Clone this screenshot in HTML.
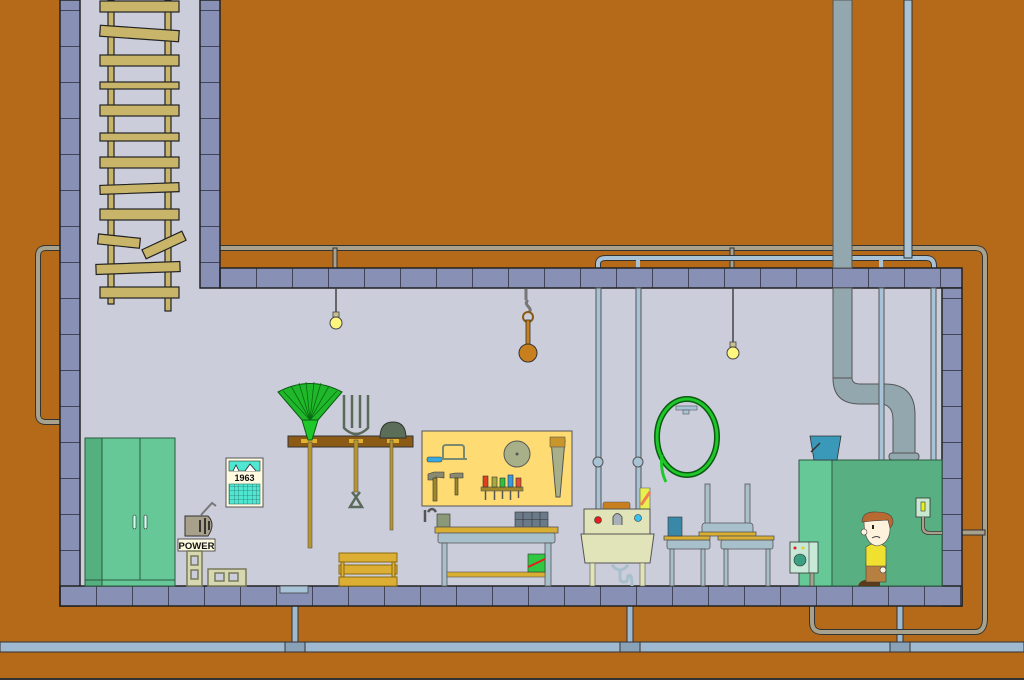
<!DOCTYPE html>
<html><head><meta charset="utf-8"><style>
html,body{margin:0;padding:0;background:#b46a19;}
svg{display:block}
text{font-family:"Liberation Sans",sans-serif}
</style></head><body>
<svg width="1024" height="680" viewBox="0 0 1024 680" xmlns="http://www.w3.org/2000/svg">
<defs>
<pattern id="vt" x="0" y="10" width="20" height="36" patternUnits="userSpaceOnUse">
<rect width="20" height="36" fill="#8890b5"/><line x1="0" y1="0" x2="20" y2="0" stroke="#2a2a3a" stroke-width="1.5"/></pattern>
<pattern id="ht" x="60" y="0" width="36" height="20" patternUnits="userSpaceOnUse">
<rect width="36" height="20" fill="#8890b5"/><line x1="0" y1="0" x2="0" y2="20" stroke="#2a2a3a" stroke-width="1.5"/></pattern>
<pattern id="ht2" x="220" y="0" width="36" height="20" patternUnits="userSpaceOnUse">
<rect width="36" height="20" fill="#8890b5"/><line x1="0" y1="0" x2="0" y2="20" stroke="#2a2a3a" stroke-width="1.5"/></pattern>
<pattern id="grid" width="4.5" height="4.5" patternUnits="userSpaceOnUse"><rect width="4.5" height="4.5" fill="#4fe6d2"/><path d="M0 0H4.5M0 0V4.5" stroke="#2a7a70" stroke-width="0.8"/></pattern>
</defs>
<rect width="1024" height="680" fill="#b46a19"/>
<line x1="0" y1="679" x2="1024" y2="679" stroke="#333" stroke-width="2"/>

<!-- bottom blue pipe -->
<rect x="0" y="642" width="1024" height="10" fill="#9fbad0" stroke="#333" stroke-width="1"/>
<g fill="#9fbad0" stroke="#333" stroke-width="1">
<rect x="292" y="606" width="6" height="36"/><rect x="285" y="642" width="20" height="10" fill="#8aa2b8"/>
<rect x="627" y="606" width="6" height="36"/><rect x="620" y="642" width="20" height="10" fill="#8aa2b8"/>
<rect x="897" y="606" width="6" height="36"/><rect x="890" y="642" width="20" height="10" fill="#8aa2b8"/>
</g>
<!-- gray pipes -->
<g fill="none" stroke="#333" stroke-width="6" stroke-linecap="butt">
<path d="M60 248H46Q38 248 38 256V414Q38 422 46 422H60"/>
<path d="M220 248H975Q985 248 985 258V618Q985 632 975 632H822Q812 632 812 622V573"/>
<path d="M80 423H180Q190 423 190 433V515"/>
</g>
<g fill="none" stroke="#a8a28c" stroke-width="4">
<path d="M60 248H46Q38 248 38 256V414Q38 422 46 422H60"/>
<path d="M220 248H975Q985 248 985 258V618Q985 632 975 632H822Q812 632 812 622V573"/>
<path d="M80 423H180Q190 423 190 433V515"/>
</g>
<g fill="#a8a28c" stroke="#333" stroke-width="1">
<rect x="333" y="248" width="4" height="20"/><rect x="730" y="248" width="4" height="20"/>
<rect x="962" y="530" width="23" height="5"/>
</g>
<!-- top blue pipe -->
<g fill="none" stroke="#333" stroke-width="6"><path d="M598 268V264Q598 258 606 258H926Q934 258 934 266V268"/></g>
<g fill="none" stroke="#a8c3d6" stroke-width="4"><path d="M598 268V264Q598 258 606 258H926Q934 258 934 266V268"/></g>
<rect x="904" y="0" width="8" height="258" fill="#a8c3d6" stroke="#333" stroke-width="1"/>
<rect x="636" y="258" width="4" height="10" fill="#a8c3d6"/><rect x="879" y="258" width="4" height="10" fill="#a8c3d6"/>

<!-- interiors -->
<rect x="80" y="0" width="120" height="288" fill="#cbcdda"/>
<rect x="80" y="288" width="862" height="298" fill="#cbcdda"/>
<!-- walls -->
<rect x="60" y="0" width="20" height="606" fill="url(#vt)" stroke="#222" stroke-width="1.5"/>
<rect x="200" y="0" width="20" height="288" fill="url(#vt)" stroke="#222" stroke-width="1.5"/>
<rect x="220" y="268" width="742" height="20" fill="url(#ht2)" stroke="#222" stroke-width="1.5"/>
<rect x="942" y="288" width="20" height="318" fill="url(#vt)" stroke="#222" stroke-width="1.5"/>
<rect x="60" y="586" width="902" height="20" fill="url(#ht)" stroke="#222" stroke-width="1.5"/>

<!-- duct -->
<g fill="#93a8ae" stroke="#555" stroke-width="1">
<rect x="833" y="0" width="19" height="268"/>
<rect x="833" y="288" width="19" height="90"/>
<path d="M833 378Q833 404 860 404H880Q893 404 893 420V455H915V415Q915 384 885 384H860Q852 384 852 378Z"/>
<rect x="889" y="453" width="30" height="7" rx="3"/>
</g>
<g fill="#a8c3d6" stroke="#555" stroke-width="1">
<rect x="879" y="288" width="5" height="172"/><rect x="931" y="288" width="5" height="172"/>
<rect x="596" y="288" width="5" height="221"/><rect x="636" y="288" width="5" height="221"/>
<circle cx="598" cy="462" r="5"/><circle cx="638" cy="462" r="5"/>
</g>

<!-- ladder -->
<g fill="#c8b56a" stroke="#222" stroke-width="1.2">
<rect x="108" y="0" width="6" height="304"/><rect x="165" y="0" width="6" height="311"/>
<rect x="100" y="1" width="79" height="11"/>
<rect x="100" y="28" width="79" height="11" transform="rotate(4 140 33)"/>
<rect x="100" y="55" width="79" height="11"/>
<rect x="100" y="82" width="79" height="7"/>
<rect x="100" y="105" width="79" height="11"/>
<rect x="100" y="133" width="79" height="8"/>
<rect x="100" y="157" width="79" height="11"/>
<rect x="100" y="184" width="79" height="9" transform="rotate(-2 140 188)"/>
<rect x="100" y="209" width="79" height="11"/>
<rect x="98" y="236" width="42" height="10" transform="rotate(6 118 241)"/>
<rect x="142" y="240" width="44" height="10" transform="rotate(-25 164 245)"/>
<rect x="96" y="263" width="84" height="10" transform="rotate(-2 138 268)"/>
<rect x="100" y="287" width="79" height="11"/>
</g>

<!-- lights -->
<line x1="336" y1="288" x2="336" y2="314" stroke="#444" stroke-width="1.5"/>
<rect x="333" y="312" width="6" height="5" fill="#c8c090" stroke="#444" stroke-width="0.8"/>
<circle cx="336" cy="323" r="6" fill="#fff680" stroke="#444"/>
<line x1="733" y1="288" x2="733" y2="343" stroke="#444" stroke-width="1.5"/>
<rect x="730" y="342" width="6" height="5" fill="#c8c090" stroke="#444" stroke-width="0.8"/>
<circle cx="733" cy="353" r="6" fill="#fff680" stroke="#444"/>
<!-- hook ball -->
<path d="M526 289V300M528 300C522 305 534 308 529 312" stroke="#777" stroke-width="3" fill="none"/>
<circle cx="528" cy="317" r="5" fill="none" stroke="#8a5a10" stroke-width="2"/>
<rect x="526" y="320" width="4" height="26" fill="#c8801e" stroke="#333" stroke-width="0.8"/>
<circle cx="528" cy="353" r="9" fill="#c8801e" stroke="#333"/>

<!-- cabinet -->
<rect x="85" y="438" width="90" height="148" fill="#66c896" stroke="#2a5a40"/>
<rect x="85" y="438" width="17" height="148" fill="#55b080" stroke="#2a5a40"/>
<line x1="140" y1="438" x2="140" y2="580" stroke="#2a5a40"/>
<line x1="85" y1="580" x2="175" y2="580" stroke="#2a5a40"/>
<rect x="133" y="515" width="3" height="14" rx="1.5" fill="#cfe" stroke="#333" stroke-width="0.6"/>
<rect x="144" y="515" width="3" height="14" rx="1.5" fill="#cfe" stroke="#333" stroke-width="0.6"/>
<!-- power -->
<path d="M185 516H208Q216 524 208 536H185Z" fill="#a8a08a" stroke="#333"/>
<path d="M200 520V532M205 518V534M209 521V530" stroke="#111" stroke-width="1.5"/>
<path d="M201 515L212 503L216 506" fill="none" stroke="#777" stroke-width="2"/>
<rect x="178" y="539" width="37" height="12" fill="#fffbe0" stroke="#333" stroke-width="0.8"/>
<text x="196.5" y="549" font-size="9.5" font-weight="bold" text-anchor="middle" fill="#111">POWER</text>
<g fill="none" stroke="#777a5a" stroke-width="1.5"><rect x="187" y="551" width="15" height="35" fill="#d8d8b0"/><rect x="191" y="556" width="7" height="9" fill="#cbcdda"/><rect x="191" y="570" width="7" height="9" fill="#cbcdda"/>
<rect x="208" y="569" width="38" height="17" fill="#d8d8b0"/><rect x="215" y="573" width="9" height="8" fill="#cbcdda"/><rect x="229" y="573" width="9" height="8" fill="#cbcdda"/></g>
<!-- calendar -->
<rect x="226" y="458" width="37" height="49" fill="#fffbe0" stroke="#555"/>
<rect x="229" y="461" width="31" height="10" fill="#4fe6d2" stroke="#333" stroke-width="0.6"/>
<path d="M233 471L236 465L239 471M245 471L250 464L256 471" fill="#fff" stroke="#222" stroke-width="0.8"/>
<text x="244.5" y="481" font-size="9" font-weight="bold" text-anchor="middle" fill="#111">1963</text>
<rect x="229" y="484" width="31" height="20" fill="url(#grid)" stroke="#2a7a70" stroke-width="0.6"/>
<!-- drain -->
<rect x="280" y="586" width="28" height="7" fill="#a8c3d6" stroke="#444" stroke-width="0.8"/>

<!-- rack -->
<rect x="288" y="436" width="125" height="11" fill="#8b5a14" stroke="#333"/>
<g fill="#e0b030"><rect x="301" y="439" width="16" height="4"/><rect x="349" y="439" width="14" height="4"/><rect x="387" y="439" width="12" height="4"/></g>
<rect x="308" y="442" width="4" height="106" fill="#b8962a" stroke="#555" stroke-width="0.6"/>
<path d="M278 392Q310 375 342 392L318 420H302Z" fill="#1fb82a" stroke="#0a5a10"/>
<g stroke="#0a6a10" stroke-width="0.8"><path d="M310 420L283 391M310 420L291 386M310 420L299 383M310 420L306 382M310 420L314 382M310 420L321 383M310 420L329 386M310 420L337 391"/></g>
<path d="M302 420H318L312 440H308Z" fill="#1fc82a" stroke="#0a5a10"/>
<rect x="354" y="440" width="4" height="52" fill="#b8962a" stroke="#555" stroke-width="0.6"/>
<path d="M344 395V428Q356 440 368 428V395M352 395V428M360 395V428" fill="none" stroke="#5a6a5a" stroke-width="2.5"/>
<path d="M352 492L356 497L360 492M350 507L356 497L362 507Z" fill="none" stroke="#5a6a5a" stroke-width="2.5"/>
<rect x="390" y="440" width="3" height="90" fill="#b8962a" stroke="#555" stroke-width="0.6"/>
<path d="M380 438Q380 422 393 422Q406 422 406 438Z" fill="#5a6e58" stroke="#333"/>

<!-- crate -->
<g fill="#dcae33" stroke="#8a6a10"><rect x="339" y="553" width="58" height="9"/><rect x="339" y="565" width="58" height="9"/><rect x="339" y="577" width="58" height="9"/><rect x="341" y="562" width="3" height="15"/><rect x="392" y="562" width="3" height="15"/></g>

<!-- pegboard -->
<rect x="422" y="431" width="150" height="75" fill="#ffdc73" stroke="#555"/>
<path d="M443 458V448Q443 445 446 445H461Q464 445 464 448V459" fill="none" stroke="#7a8a70" stroke-width="2"/>
<rect x="427" y="457" width="15" height="5" rx="2" fill="#38a8e0" stroke="#333" stroke-width="0.6"/>
<rect x="441" y="458" width="26" height="2" fill="#7a8a70"/>
<circle cx="517" cy="454" r="13" fill="#a8b08a" stroke="#555"/><circle cx="517" cy="454" r="1.5" fill="#555"/>
<path d="M551 440H565L560 497H556Z" fill="#a8b08a" stroke="#555"/>
<rect x="550" y="437" width="15" height="10" fill="#c8962a" stroke="#555" stroke-width="0.6"/>
<path d="M428 474L434 472H444V478L436 477V480H428Z" fill="#8a8a70" stroke="#333" stroke-width="0.6"/><rect x="433" y="478" width="4" height="23" fill="#a0882a" stroke="#333" stroke-width="0.6"/>
<path d="M450 474L455 473H463V478H450Z" fill="#8a8a70" stroke="#333" stroke-width="0.6"/><rect x="455" y="478" width="3" height="17" fill="#a0882a" stroke="#333" stroke-width="0.6"/>
<rect x="481" y="487" width="42" height="4" fill="#a0882a" stroke="#555" stroke-width="0.6"/>
<g stroke="#333" stroke-width="0.6"><rect x="483" y="476" width="5" height="11" fill="#e04020"/><rect x="492" y="477" width="5" height="10" fill="#a8a840"/><rect x="500" y="478" width="5" height="9" fill="#30c040"/><rect x="508" y="475" width="5" height="12" fill="#3898e0"/><rect x="516" y="478" width="5" height="9" fill="#e05030"/></g>
<path d="M485.5 491V500M494.5 491V500M502.5 491V499M510.5 491V500M518.5 491V498" stroke="#555" stroke-width="1.5"/>

<!-- workbench -->
<path d="M425 510V522M428 512Q432 506 436 512" stroke="#555" stroke-width="2.5" fill="none"/>
<rect x="437" y="514" width="13" height="13" fill="#8a9a78" stroke="#333" stroke-width="0.6"/>
<rect x="515" y="512" width="33" height="15" fill="#6a7a88" stroke="#333" stroke-width="0.6"/>
<path d="M515 519.5H548M523 512V527M532 512V527M540 512V527" stroke="#333" stroke-width="0.6"/>
<rect x="435" y="527" width="123" height="6" fill="#d8ae33" stroke="#555" stroke-width="0.8"/>
<rect x="438" y="533" width="117" height="10" rx="2" fill="#a8bfcc" stroke="#555" stroke-width="0.8"/>
<rect x="442" y="543" width="5" height="43" fill="#a8bfcc" stroke="#555" stroke-width="0.8"/>
<rect x="545" y="543" width="6" height="43" fill="#a8bfcc" stroke="#555" stroke-width="0.8"/>
<rect x="447" y="572" width="98" height="5" fill="#d8ae33" stroke="#555" stroke-width="0.6"/>
<rect x="528" y="554" width="17" height="18" fill="#30c840" stroke="#333" stroke-width="0.6"/>
<path d="M528 567L545 559" stroke="#e02020" stroke-width="2"/>

<!-- sink -->
<rect x="603" y="502" width="27" height="8" rx="2" fill="#c8801e" stroke="#555" stroke-width="0.6"/>
<path d="M640 488H650V509H640Z" fill="#e8f050" stroke="#555" stroke-width="0.6"/><path d="M641 505L650 492" stroke="#f08050" stroke-width="3"/>
<rect x="584" y="509" width="66" height="25" fill="#e0e4b8" stroke="#555"/>
<circle cx="598" cy="520" r="3.5" fill="#e02020" stroke="#333" stroke-width="0.6"/>
<circle cx="638" cy="518" r="3.5" fill="#38c0f0" stroke="#333" stroke-width="0.6"/>
<path d="M613 525V517Q617 510 622 517V525" fill="#a8b0b8" stroke="#555"/>
<path d="M581 534H654L650 563H585Z" fill="#e0e4b8" stroke="#555"/>
<rect x="590" y="563" width="5" height="23" fill="#e0e4b8" stroke="#555" stroke-width="0.6"/>
<rect x="640" y="563" width="5" height="23" fill="#e0e4b8" stroke="#555" stroke-width="0.6"/>
<path d="M612 565Q620 575 628 565M620 571V578Q620 582 624 582Q628 582 628 576Q632 572 632 586" fill="none" stroke="#a8bfcc" stroke-width="3"/>

<!-- hose -->
<ellipse cx="687" cy="437" rx="30" ry="38" fill="none" stroke="#0a5a10" stroke-width="6"/>
<ellipse cx="687" cy="437" rx="30" ry="38" fill="none" stroke="#1fc82a" stroke-width="3"/>
<path d="M662 455Q660 470 666 482" fill="none" stroke="#1fc82a" stroke-width="3"/>
<rect x="676" y="406" width="21" height="4" fill="#a8c3d6" stroke="#555" stroke-width="0.6"/>
<rect x="683" y="410" width="6" height="4" fill="#a8c3d6" stroke="#555" stroke-width="0.6"/>

<!-- tables -->
<g fill="#a8bfcc" stroke="#555" stroke-width="0.8">
<rect x="705" y="484" width="5" height="40"/><rect x="745" y="484" width="5" height="40"/>
<rect x="702" y="523" width="51" height="11" rx="3"/>
<rect x="667" y="540" width="43" height="9" rx="2"/><rect x="670" y="549" width="4" height="37"/><rect x="701" y="549" width="4" height="37"/>
<rect x="721" y="540" width="52" height="9" rx="2"/><rect x="724" y="549" width="4" height="37"/><rect x="766" y="549" width="4" height="37"/>
</g>
<g fill="#d8ae33" stroke="#555" stroke-width="0.8"><rect x="699" y="532" width="57" height="4"/><rect x="664" y="536" width="46" height="4"/><rect x="718" y="536" width="56" height="4"/></g>
<rect x="668" y="517" width="14" height="19" fill="#3a88a8" stroke="#333" stroke-width="0.6"/>

<!-- furnace -->
<rect x="799" y="460" width="143" height="126" fill="#58b082" stroke="#2a5a40"/>
<rect x="799" y="460" width="33" height="126" fill="#66c896" stroke="#2a5a40"/>
<path d="M810 436H841L837 460H814Z" fill="#3a98b8" stroke="#333" stroke-width="0.8"/>
<path d="M811 452L820 443" stroke="#333" stroke-width="1.5"/>
<rect x="916" y="498" width="14" height="19" fill="#c8e8d0" stroke="#333" stroke-width="0.8"/>
<rect x="921" y="502" width="4" height="9" fill="#e8f020" stroke="#333" stroke-width="0.6"/>
<path d="M923 517V527Q923 533 930 533H942" fill="none" stroke="#333" stroke-width="4"/>
<path d="M923 517V527Q923 533 930 533H942" fill="none" stroke="#a8a28c" stroke-width="2.5"/>
<rect x="790" y="542" width="28" height="31" fill="#c8e8d8" stroke="#333" stroke-width="0.8"/>
<line x1="809" y1="542" x2="809" y2="573" stroke="#333" stroke-width="0.6"/>
<circle cx="795" cy="548" r="1.5" fill="#e02020"/><circle cx="803" cy="548" r="1.5" fill="#e8d020"/>
<circle cx="800" cy="560" r="6" fill="#3aa080" stroke="#333" stroke-width="0.6"/>
<rect x="810" y="573" width="4" height="13" fill="#a8a28c" stroke="#333" stroke-width="0.6"/>

<!-- boy -->
<path d="M858 586Q860 579 870 580H880V586Z" fill="#5a3a1a"/>
<rect x="866" y="563" width="20" height="19" fill="#b88040" stroke="#444" stroke-width="0.6"/>
<path d="M866 547Q876 540 886 547V566H866Z" fill="#f0e030" stroke="#444" stroke-width="0.6"/>
<circle cx="883" cy="570" r="3" fill="#fff2dd" stroke="#444" stroke-width="0.6"/>
<path d="M864 521Q864 544 877 546Q889 544 890 530V520Z" fill="#fff2dd" stroke="#444" stroke-width="0.6"/>
<circle cx="864" cy="532" r="3" fill="#fff2dd" stroke="#444" stroke-width="0.6"/>
<path d="M862 522Q862 511 877 512Q893 512 893 522Q893 525 890 528L888 520L872 521Z" fill="#b86a30" stroke="#444" stroke-width="0.6"/>
<rect x="872" y="525" width="2" height="4" fill="#222"/>
<path d="M872 538Q877 535 880 538" stroke="#444" fill="none"/>
</svg>
</body></html>
